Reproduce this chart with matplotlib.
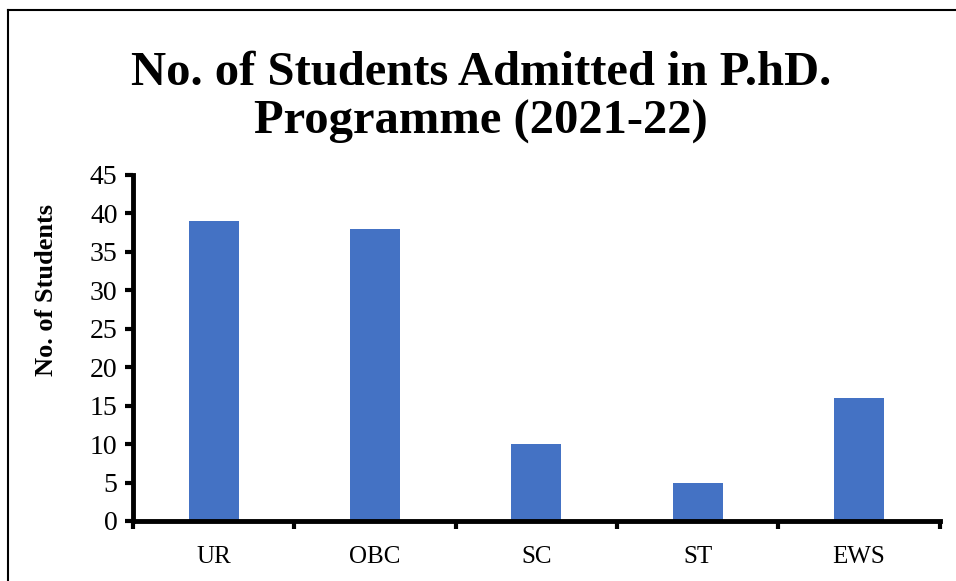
import matplotlib.pyplot as plt
from matplotlib.lines import Line2D

categories = ['UR', 'OBC', 'SC', 'ST', 'EWS']
students = [39, 38, 10, 5, 16]
yticks = [0, 5, 10, 15, 20, 25, 30, 35, 40, 45]

plt.rcParams['font.family'] = ['Liberation Serif', 'DejaVu Serif']

fig = plt.figure(figsize=(9.56, 5.81), dpi=100)
ax = fig.add_axes([0.139, 0.1033, 0.844, 0.5955])

x = range(len(categories))
ax.bar(x, students, width=0.31, color='#4472C4')

ax.set_xlim(-0.5, len(categories) - 0.5)
ax.set_ylim(0, 45)
ax.set_yticks(yticks)
ax.tick_params(axis='y', labelsize=20, length=6, width=3, direction='out', pad=5)

# major ticks at category boundaries, labels on minor ticks
ax.set_xticks([i - 0.5 for i in range(len(categories) + 1)])
ax.set_xticklabels([])
ax.set_xticks(list(x), minor=True)
ax.set_xticklabels(categories, minor=True)
ax.tick_params(axis='x', which='major', length=6, width=3, direction='out')
ax.tick_params(axis='x', which='minor', length=0, labelsize=18, pad=18)

for side in ['top', 'right']:
    ax.spines[side].set_visible(False)
for side in ['left', 'bottom']:
    ax.spines[side].set_linewidth(3.5)

ax.set_ylabel('No. of Students', fontsize=19, fontweight='bold')
ax.yaxis.set_label_coords(-0.093, 0.668)

fig.text(0.503, 0.832, 'No. of Students Admitted in P.hD.\nProgramme (2021-22)',
         ha='center', va='center', fontsize=35, fontweight='bold', linespacing=1.15)

# cropped frame: top and left edges only
fig.add_artist(Line2D([0.0085, 1.0], [0.982, 0.982], color='black', lw=1.5,
                      transform=fig.transFigure))
fig.add_artist(Line2D([0.0085, 0.0085], [0.0, 0.982], color='black', lw=1.5,
                      transform=fig.transFigure))

plt.savefig('out.png', dpi=100)
